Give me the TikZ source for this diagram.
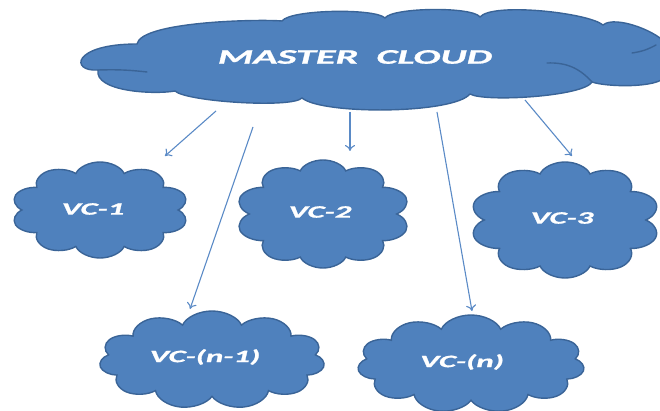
\documentclass[tikz,border=0pt]{standalone}
\usepackage{fontspec}
\setmainfont{Carlito}[BoldItalicFeatures={FakeBold=0.8}]
\usetikzlibrary{shapes.symbols,arrows.meta}
\definecolor{cfill}{HTML}{4F81BD}
\definecolor{cline}{HTML}{3A6497}
\definecolor{arr}{HTML}{5A8AC6}
\begin{document}
\begin{tikzpicture}[x=1pt,y=-1pt,
  mc/.style={fill=cfill, draw=cline, line width=1.4pt, line join=round},
  tuck/.style={draw=cline, line width=1.4pt, line cap=round},
  vc/.style={cloud, cloud puffs=10, cloud ignores aspect, fill=cfill, draw=cline, line width=1.4pt, inner sep=0pt, transform shape},
  lbl/.style={text=white, inner sep=0pt, font=\bfseries\itshape\fontsize{17.5}{19}\selectfont},
  mlbl/.style={text=white, inner sep=0pt, font=\bfseries\itshape\fontsize{20.7}{23}\selectfont},
  link/.style={draw=arr, line width=1.1pt, -{To[length=6pt,width=10pt]}}]
\useasboundingbox (0,0) rectangle (660,411);
% master cloud
\path[mc] (98,70) .. controls (70,72) and (72,44) .. (137,44)
  to[out=80, in=175, looseness=0.4] (282,21)
  to[out=55, in=135, looseness=0.35] (385,18)
  to[out=55, in=125, looseness=0.35] (480,17)
  to[out=50, in=140, looseness=0.4] (603,25)
  to[out=40, in=120, looseness=0.6] (668,46)
  to[out=-30, in=30, looseness=1] (666,76)
  to[out=-120, in=-20, looseness=0.5] (592,82)
  to[out=-120, in=-30, looseness=0.35] (470,94)
  to[out=-130, in=-40, looseness=0.4] (302,98)
  to[out=-135, in=-45, looseness=0.3] (175,91)
  to[out=-170, in=-100, looseness=0.7] (98,70) -- cycle;
\draw[tuck] (98,70) to[bend left=4] (147,72);
\draw[tuck] (632,53) to[bend right=10] (656,45);
\draw[tuck] (547,63) to[bend left=25] (592,82);
% clouds
\begin{scope}[shift={(100,210)}, xscale=1.6]
\node[vc, minimum width=111pt, minimum height=96pt] (vc1) at (0,0) {};
\end{scope}
\begin{scope}[shift={(323,214)}, xscale=1.6]
\node[vc, minimum width=109pt, minimum height=108pt] (vc2) at (0,0) {};
\end{scope}
\begin{scope}[shift={(565,220)}, xscale=1.6]
\node[vc, minimum width=119pt, minimum height=116pt] (vc3) at (0,0) {};
\end{scope}
\begin{scope}[shift={(212,360)}, xscale=1.6]
\node[vc, cloud puffs=11, minimum width=141pt, minimum height=98pt] (vcn1) at (0,0) {};
\end{scope}
\begin{scope}[shift={(471,364)}, xscale=1.6]
\node[vc, cloud puffs=11, minimum width=142pt, minimum height=98pt] (vcn) at (0,0) {};
\end{scope}
% labels
\node[mlbl] (tm) at (355,57) {\scalebox{1.95}[1]{MASTER\ \ CLOUD}};
\node[lbl] (t1) at (93,209) {\scalebox{1.88}[1]{VC-1}};
\node[lbl] (t2) at (320,212) {\scalebox{1.88}[1]{VC-2}};
\node[lbl] (t3) at (562,218) {\scalebox{1.88}[1]{VC-3}};
\node[lbl] (tn1) at (205,357) {\scalebox{1.88}[1]{VC-(n-1)}};
\node[lbl] (tn) at (462,362) {\scalebox{1.88}[1]{VC-(n)}};
% connector ends
\coordinate (s1) at (216,111); \coordinate (e1) at (165,156);
\coordinate (s2) at (253,127); \coordinate (e2) at (190,309);
\coordinate (s3) at (350,112); \coordinate (e3) at (350,151);
\coordinate (s4) at (437,112); \coordinate (e4) at (472,311);
\coordinate (s5) at (525,100); \coordinate (e5) at (572,156);
\draw[link] (s1) -- (e1);
\draw[link] (s2) -- (e2);
\draw[link] (s3) -- (e3);
\draw[link] (s4) -- (e4);
\draw[link] (s5) -- (e5);
\end{tikzpicture}
\end{document}
